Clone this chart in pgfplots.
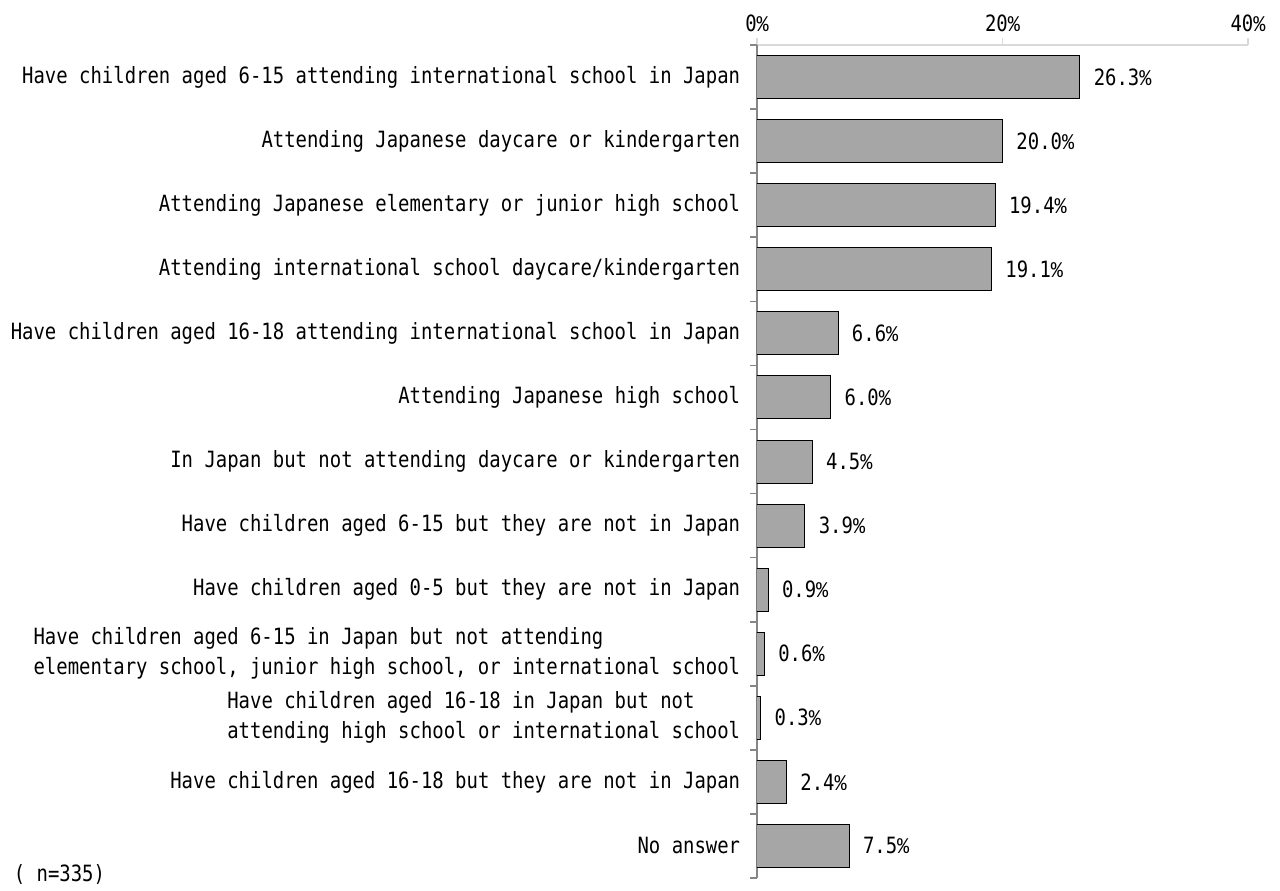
\documentclass[border=0pt]{standalone}
\usepackage{fontspec}
\setmainfont{DejaVu Sans Mono}[FakeStretch=0.845]
\newfontfamily\pct{Liberation Mono}[FakeStretch=0.9]
\usepackage{pgfplots}
\pgfplotsset{compat=1.18}
\definecolor{barfill}{HTML}{A6A6A6}
\definecolor{axgray}{HTML}{868686}
\definecolor{lightax}{HTML}{D9D9D9}
\begin{document}
\fontsize{11.2}{15}\selectfont
\begin{tikzpicture}[x=1pt,y=1pt]
\path[use as bounding box] (0,0) rectangle (640,445);
\begin{axis}[
  at={(378.5pt,6pt)}, anchor=south west, scale only axis,
  width=245.5pt, height=416.5pt,
  xbar, bar width=21.5pt,
  xmin=0, xmax=40, ymin=-0.5, ymax=12.5, y dir=reverse,
  axis x line*=top, axis y line*=left,
  x axis line style={draw=lightax, -, line width=0.8pt},
  y axis line style={axgray, -, line width=0.8pt},
  xtick={0,20,40},
  xticklabel={\pgfmathprintnumber{\tick}{\pct\%}},
  xticklabel style={yshift=-1pt},
  xtick style={draw=lightax, line width=0.8pt},
  tick align=outside,
  major tick length=3.5pt,
  ytick={0,...,12},
  ytick style={draw=none},
  yticklabels={
    {Have children aged 6-15 attending international school in Japan},
    {Attending Japanese daycare or kindergarten},
    {Attending Japanese elementary or junior high school},
    {Attending international school daycare/kindergarten},
    {Have children aged 16-18 attending international school in Japan},
    {Attending Japanese high school},
    {In Japan but not attending daycare or kindergarten},
    {Have children aged 6-15 but they are not in Japan},
    {Have children aged 0-5 but they are not in Japan},
    {Have children aged 6-15 in Japan but not attending\\elementary school, junior high school, or international school},
    {Have children aged 16-18 in Japan but not\\attending high school or international school},
    {Have children aged 16-18 but they are not in Japan},
    {No answer}},
  yticklabel style={align=left, xshift=-1pt},
  extra y ticks={-0.5,0.5,...,12.5},
  extra y tick labels={},
  extra y tick style={ytick style={draw=axgray, line width=0.8pt}, major tick length=3.5pt},
  /pgf/number format/assume math mode=true,
  point meta=x,
  nodes near coords={\pgfmathprintnumber[fixed,fixed zerofill,precision=1]{\pgfplotspointmeta}{\pct\%}},
  nodes near coords style={anchor=west, xshift=3pt, black},
]
\addplot[draw=black, fill=barfill, line width=0.5pt] coordinates {
  (26.3,0) (20.0,1) (19.4,2) (19.1,3) (6.6,4) (6.0,5) (4.5,6)
  (3.9,7) (0.9,8) (0.6,9) (0.3,10) (2.4,11) (7.5,12)};
\end{axis}
\node[anchor=west] at (3,8) {( n=335)};
\end{tikzpicture}
\end{document}
